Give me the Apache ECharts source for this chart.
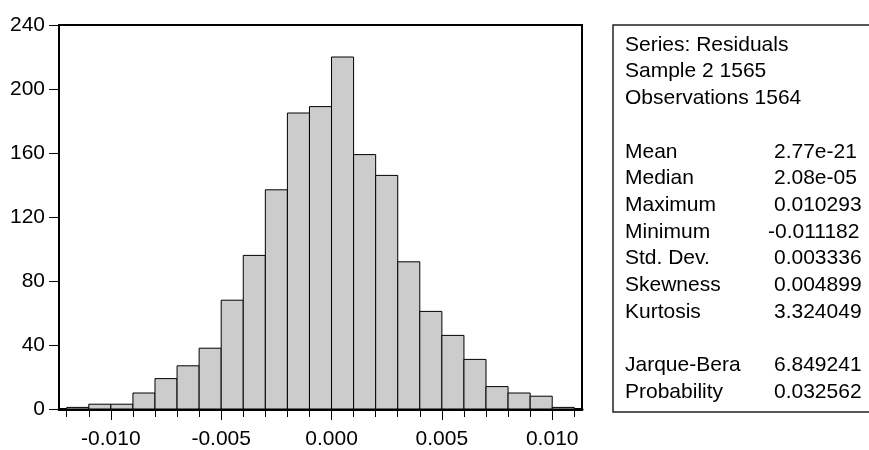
<!DOCTYPE html>
<html>
<head>
<meta charset="utf-8">
<script src="https://cdn.jsdelivr.net/npm/echarts@6/dist/echarts.min.js"></script>
<style>
html,body{margin:0;padding:0;background:#fff;}
#chart{width:869px;height:450px;}
</style>
</head>
<body>
<div id="chart"></div>
<script>
// ---- data ----
const binStarts = [-0.012,-0.011,-0.010,-0.009,-0.008,-0.007,-0.006,-0.005,-0.004,-0.003,-0.002,-0.001,
                   0.000,0.001,0.002,0.003,0.004,0.005,0.006,0.007,0.008,0.009,0.010];
const counts = [1,3,3,10,19,27,38,68,96,137,185,189,
                220,159,146,92,61,46,31,14,10,8,1];
const binWidth = 0.001;
const xTickValues = [-0.012,-0.011,-0.010,-0.009,-0.008,-0.007,-0.006,-0.005,-0.004,-0.003,-0.002,-0.001,
                     0.000,0.001,0.002,0.003,0.004,0.005,0.006,0.007,0.008,0.009,0.010,0.011];
const xLabelValues = [-0.010,-0.005,0.000,0.005,0.010];
const headerLines = ['Series: Residuals','Sample 2 1565','Observations 1564'];
const statLabels = ['Mean','Median','Maximum','Minimum','Std. Dev.','Skewness','Kurtosis'];
const statValues = ['2.77e-21','2.08e-05','0.010293','-0.011182','0.003336','0.004899','3.324049'];
const testLabels = ['Jarque-Bera','Probability'];
const testValues = ['6.849241','0.032562'];

// ---- layout ----
const FONT = '"Liberation Sans", Arial, sans-serif';
const FS = 21;
const chart = echarts.init(document.getElementById('chart'), null, {renderer:'canvas'});

const textEls = [];
const lineGap = 26.7;
const y0 = 45;
const labX = 625, valX = 774;
function addText(str, x, y) {
  textEls.push({type:'text', x:x, y:y, style:{text:str, font: FS + 'px ' + FONT, fill:'#000', textAlign:'left', textVerticalAlign:'middle'}});
}
headerLines.forEach((s,i)=>addText(s, labX, y0 + i*lineGap));
statLabels.forEach((s,i)=>{
  const y = y0 + (4+i)*lineGap;
  addText(s, labX, y);
  addText(statValues[i], statValues[i].startsWith('-') ? valX-6 : valX, y);
});
testLabels.forEach((s,i)=>{
  const y = y0 + (12+i)*lineGap;
  addText(s, labX, y);
  addText(testValues[i], testValues[i].startsWith('-') ? valX-6 : valX, y);
});

const X_MIN = -0.01235, X_MAX = 0.01135;

const option = {
  animation:false,
  backgroundColor:'#fff',
  grid:{left:59, top:25, right:287, bottom:35, show:true, borderColor:'#000', borderWidth:2, backgroundColor:'transparent'},
  xAxis:[{
    type:'value', min:X_MIN, max:X_MAX, position:'bottom',
    axisLine:{show:true, onZero:false, lineStyle:{color:'#000', width:3}},
    axisTick:{show:true, inside:false, length:8, customValues:xTickValues, lineStyle:{color:'#000', width:1}},
    axisLabel:{show:true, customValues:xLabelValues, margin:20, color:'#000', fontSize:FS, fontFamily:FONT,
      formatter:v=>Number(v).toFixed(3)},
    splitLine:{show:false}
  },{
    type:'value', min:X_MIN, max:X_MAX, position:'bottom', offset:0,
    axisLine:{show:false, onZero:false},
    axisTick:{show:true, inside:false, length:11, customValues:xLabelValues, lineStyle:{color:'#000', width:1}},
    axisLabel:{show:false},
    splitLine:{show:false}
  }],
  yAxis:{
    type:'value', min:0, max:240, interval:40,
    axisLine:{show:false, onZero:false},
    axisTick:{show:true, inside:false, length:10, lineStyle:{color:'#000', width:1}},
    axisLabel:{margin:14, color:'#000', fontSize:FS, fontFamily:FONT},
    splitLine:{show:false}
  },
  series:[{
    type:'custom',
    xAxisIndex:0,
    data: binStarts.map((s,i)=>[s, counts[i]]),
    renderItem:function(params, api){
      const s = api.value(0), c = api.value(1);
      const p0 = api.coord([s, 0]);
      const p1 = api.coord([s + binWidth, c]);
      return {type:'rect', shape:{x:p0[0], y:p1[1], width:p1[0]-p0[0], height:p0[1]-p1[1]},
        style:{fill:'#cccccc', stroke:'#000', lineWidth:1}};
    }
  }],
  graphic:[
    {type:'rect', shape:{x:613, y:25, width:300, height:387}, style:{fill:'#fff', stroke:'#222', lineWidth:1.5}},
    ...textEls
  ]
};
chart.setOption(option);
</script>
</body>
</html>
